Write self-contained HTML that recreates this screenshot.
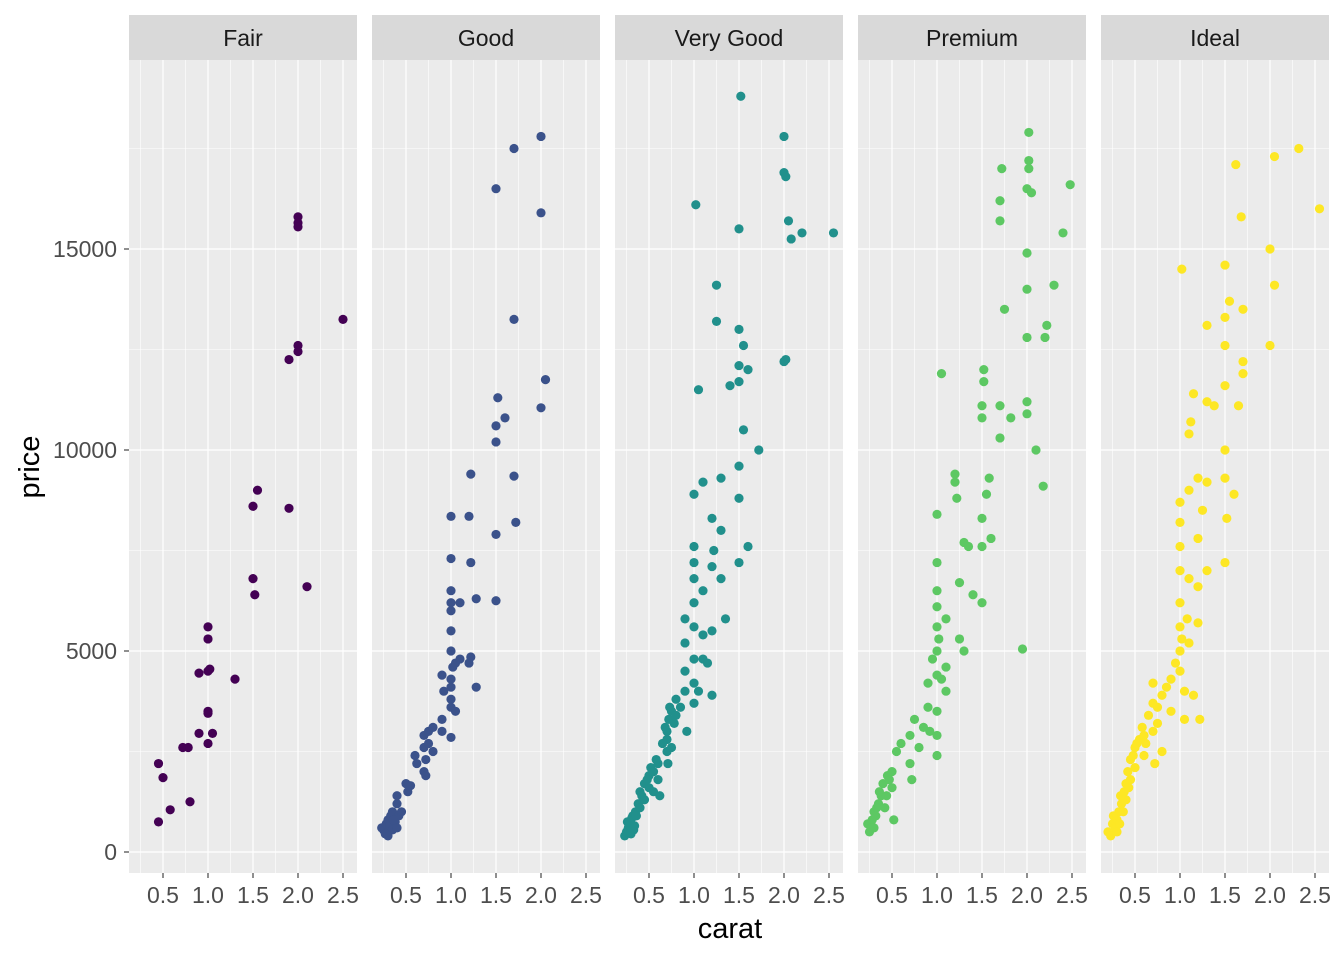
<!DOCTYPE html>
<html><head><meta charset="utf-8"><style>
body{margin:0;background:#fff;}
svg{display:block;font-family:"Liberation Sans",sans-serif;}
</style></head><body>
<svg id="chart" width="1344" height="960"></svg>
<script>
const facets = ["Fair","Good","Very Good","Premium","Ideal"];
const colors = ["#440154","#3B528B","#21908C","#5DC863","#FDE725"];
const xTicks = [0.5,1.0,1.5,2.0,2.5];
const xTickLabels = ["0.5","1.0","1.5","2.0","2.5"];
const yTicks = [0,5000,10000,15000];
const yTickLabels = ["0","5000","10000","15000"];
const fairPts = [[0.45,2200],[0.5,1850],[0.45,750],[0.58,1050],[0.72,2600],[0.78,2600],[0.8,1250],[0.9,4450],[0.9,2950],[1.0,5600],[1.0,5300],[1.0,4500],[1.02,4550],[1.0,3500],[1.0,3450],[1.0,2700],[1.05,2950],[1.3,4300],[1.5,8600],[1.55,9000],[1.5,6800],[1.52,6400],[1.9,8550],[1.9,12250],[2.0,12600],[2.0,12450],[2.0,15800],[2.0,15650],[2.0,15550],[2.1,6600],[2.5,13250]];
const goodPts = [[0.23,600],[0.25,550],[0.28,700],[0.3,500],[0.3,800],[0.32,650],[0.33,900],[0.35,1000],[0.35,550],[0.38,750],[0.4,1200],[0.4,1400],[0.42,900],[0.5,1700],[0.52,1500],[0.55,1650],[0.6,2400],[0.62,2200],[0.7,2900],[0.7,2600],[0.7,2000],[0.72,1900],[0.72,2300],[0.75,2700],[0.75,3000],[0.8,2500],[0.8,3100],[0.9,4400],[0.9,3000],[0.9,3300],[0.92,4000],[1.0,4300],[1.0,4100],[1.0,3800],[1.0,3600],[1.0,2850],[1.0,5000],[1.0,5500],[1.0,6000],[1.0,6200],[1.0,6500],[1.0,7300],[1.0,8350],[1.02,4600],[1.05,4700],[1.05,3500],[1.1,4800],[1.1,6200],[1.2,4700],[1.22,4850],[1.2,8350],[1.22,9400],[1.22,7200],[1.28,6300],[1.28,4100],[1.5,6250],[1.5,7900],[1.5,10200],[1.5,10600],[1.52,11300],[1.6,10800],[1.5,16500],[1.7,17500],[1.7,13250],[1.7,9350],[1.72,8200],[2.0,17800],[2.0,15900],[2.0,11050],[2.05,11750],[0.27,450],[0.3,400],[0.36,800],[0.4,600],[0.45,1000]];
const veryGoodPts = [[0.23,400],[0.25,500],[0.27,600],[0.3,700],[0.3,450],[0.32,900],[0.33,550],[0.35,1000],[0.38,1200],[0.4,1100],[0.4,1500],[0.42,1400],[0.45,1700],[0.5,1900],[0.5,1600],[0.52,2100],[0.55,2000],[0.55,1500],[0.6,1800],[0.6,2200],[0.62,1400],[0.7,2500],[0.7,2800],[0.7,3000],[0.71,2200],[0.72,3300],[0.73,3600],[0.75,2600],[0.75,3500],[0.8,3400],[0.8,3800],[0.9,4000],[0.9,4500],[0.9,5200],[0.9,5800],[0.92,3000],[1.0,4200],[1.0,4800],[1.0,5600],[1.0,6200],[1.0,6800],[1.0,7200],[1.0,7600],[1.0,8900],[1.0,3700],[1.02,16100],[1.05,11500],[1.05,4000],[1.1,5400],[1.1,6500],[1.1,4800],[1.1,9200],[1.15,4700],[1.2,5500],[1.2,8300],[1.2,7100],[1.2,3900],[1.22,7500],[1.25,14100],[1.25,13200],[1.3,9300],[1.3,6800],[1.35,5800],[1.4,11600],[1.5,13000],[1.5,12100],[1.5,11700],[1.5,9600],[1.5,8800],[1.5,7200],[1.5,15500],[1.52,18800],[1.55,12600],[1.55,10500],[1.6,12000],[1.6,7600],[1.72,10000],[2.0,17800],[2.0,16900],[2.02,16800],[2.02,12250],[2.0,12200],[2.05,15700],[2.08,15250],[2.2,15400],[2.55,15400],[1.3,8000],[0.26,750],[0.28,500],[0.31,850],[0.34,650],[0.36,900],[0.45,1300],[0.48,1800],[0.58,2300],[0.65,2700],[0.68,3100],[0.78,3200],[0.85,3600]];
const premiumPts = [[0.23,700],[0.25,500],[0.28,800],[0.3,600],[0.3,1000],[0.32,900],[0.35,1200],[0.38,1400],[0.4,1700],[0.42,1100],[0.45,1900],[0.5,2000],[0.5,1600],[0.52,800],[0.55,2500],[0.6,2700],[0.7,2200],[0.7,2900],[0.72,1800],[0.75,3300],[0.8,2600],[0.9,3600],[0.9,4200],[0.92,3000],[1.0,3500],[1.0,4400],[1.0,5000],[1.0,5600],[1.0,6100],[1.0,6500],[1.0,7200],[1.0,8400],[1.0,2400],[1.0,2900],[1.02,5300],[1.05,11900],[1.1,4600],[1.1,5800],[1.1,4000],[1.2,9400],[1.2,9200],[1.22,8800],[1.25,6700],[1.25,5300],[1.3,7700],[1.3,5000],[1.35,7600],[1.4,6400],[1.5,6200],[1.5,7600],[1.5,8300],[1.5,10800],[1.5,11100],[1.52,11700],[1.52,12000],[1.55,8900],[1.58,9300],[1.6,7800],[1.7,10300],[1.7,11100],[1.7,15700],[1.7,16200],[1.72,17000],[1.75,13500],[1.82,10800],[1.95,5050],[2.0,10900],[2.0,11200],[2.0,12800],[2.0,14000],[2.0,14900],[2.0,16500],[2.02,17200],[2.02,17000],[2.02,17900],[2.05,16400],[2.1,10000],[2.18,9100],[2.2,12800],[2.22,13100],[2.3,14100],[2.4,15400],[2.48,16600],[0.27,600],[0.33,1100],[0.36,1500],[0.44,1400],[0.47,1800],[0.85,3100],[0.95,4800],[1.05,4300]];
const idealPts = [[0.2,500],[0.23,400],[0.25,700],[0.28,600],[0.3,800],[0.3,500],[0.32,1000],[0.33,700],[0.35,1200],[0.38,1500],[0.4,1300],[0.4,1700],[0.42,2000],[0.45,1800],[0.45,2300],[0.5,2600],[0.5,2100],[0.55,2800],[0.6,2900],[0.6,2400],[0.65,3400],[0.7,3000],[0.7,3700],[0.7,4200],[0.72,2200],[0.75,3200],[0.8,3900],[0.8,2500],[0.9,4300],[0.9,3500],[1.0,4500],[1.0,5000],[1.0,5600],[1.0,6200],[1.0,7000],[1.0,7600],[1.0,8200],[1.0,8700],[1.02,14500],[1.05,4000],[1.05,3300],[1.1,5200],[1.1,6800],[1.1,9000],[1.1,10400],[1.12,10700],[1.15,11400],[1.15,3900],[1.2,5700],[1.2,6600],[1.2,7800],[1.2,9300],[1.22,3300],[1.25,8500],[1.3,11200],[1.3,13100],[1.3,9200],[1.3,7000],[1.38,11100],[1.5,11600],[1.5,12600],[1.5,13300],[1.5,14600],[1.5,10000],[1.5,9300],[1.5,7200],[1.52,8300],[1.55,13700],[1.6,8900],[1.62,17100],[1.65,11100],[1.68,15800],[1.7,13500],[1.7,12200],[1.7,11900],[2.0,15000],[2.0,12600],[2.05,17300],[2.05,14100],[2.32,17500],[2.55,16000],[0.26,900],[0.34,1400],[0.37,1000],[0.43,1600],[0.48,2400],[0.52,2700],[0.58,3100],[0.62,2700],[0.75,3600],[0.85,4100],[0.95,4700],[1.02,5300],[1.08,5800]];
const series = [fairPts,goodPts,veryGoodPts,premiumPts,idealPts];

const NS="http://www.w3.org/2000/svg";
const svg=document.getElementById('chart');
function mk(tag,attrs,parent){const e=document.createElementNS(NS,tag);for(const k in attrs)e.setAttribute(k,attrs[k]);(parent||svg).appendChild(e);return e;}
const panelLefts=[129,372,615,858,1101], PW=228, TOP=60, BOT=873;
const xScale=(left,c)=>left+34+(c-0.5)*90;
const yScale=p=>852-p*0.0402;
const xMinor=[0.25,0.75,1.25,1.75,2.25];
const yMinor=[2500,7500,12500,17500];

facets.forEach((f,i)=>{
  const L=panelLefts[i];
  const g=mk('g',{});
  
  
  const strip=mk('rect',{x:L,y:15,width:PW,height:45,fill:'#D9D9D9'},g);
  
  
  const st=mk('text',{x:L+PW/2,y:46,'text-anchor':'middle','font-size':'23',fill:'#1A1A1A'},g);
  st.textContent=f;
  
  
  mk('rect',{x:L,y:TOP,width:PW,height:BOT-TOP,fill:'#EBEBEB'},g);
  yMinor.forEach(v=>mk('line',{x1:L,x2:L+PW,y1:yScale(v),y2:yScale(v),stroke:'#fff','stroke-width':0.6},g));
  xMinor.forEach(v=>mk('line',{x1:xScale(L,v),x2:xScale(L,v),y1:TOP,y2:BOT,stroke:'#fff','stroke-width':0.6},g));
  yTicks.forEach(v=>mk('line',{x1:L,x2:L+PW,y1:yScale(v),y2:yScale(v),stroke:'#fff','stroke-width':1.2},g));
  xTicks.forEach((v,k)=>{
    const x=xScale(L,v);
    mk('line',{x1:x,x2:x,y1:TOP,y2:BOT,stroke:'#fff','stroke-width':1.2},g);
    mk('line',{x1:x,x2:x,y1:BOT,y2:BOT+5,stroke:'#333','stroke-width':1.1},g);
    const t=mk('text',{x:x,y:903,'text-anchor':'middle','font-size':'23',fill:'#4D4D4D'},g);
    t.textContent=xTickLabels[k];
    
    
  });
  series[i].forEach(p=>{
    const c=mk('circle',{cx:xScale(L,p[0]),cy:yScale(p[1]),r:4.6,fill:colors[i]},g);
    
    
  });
});
yTicks.forEach((v,k)=>{
  const y=yScale(v);
  mk('line',{x1:124,x2:129,y1:y,y2:y,stroke:'#333','stroke-width':1.1});
  const t=mk('text',{x:117,y:y+8,'text-anchor':'end','font-size':'23',fill:'#4D4D4D'});
  t.textContent=yTickLabels[k];
  
  
});
const xt=mk('text',{x:730,y:938,'text-anchor':'middle','font-size':'29',fill:'#000'});
xt.textContent='carat';


const yt=mk('text',{x:39,y:467,'text-anchor':'middle','font-size':'29',fill:'#000',transform:'rotate(-90 39 467)'});
yt.textContent='price';


</script>
</body></html>
